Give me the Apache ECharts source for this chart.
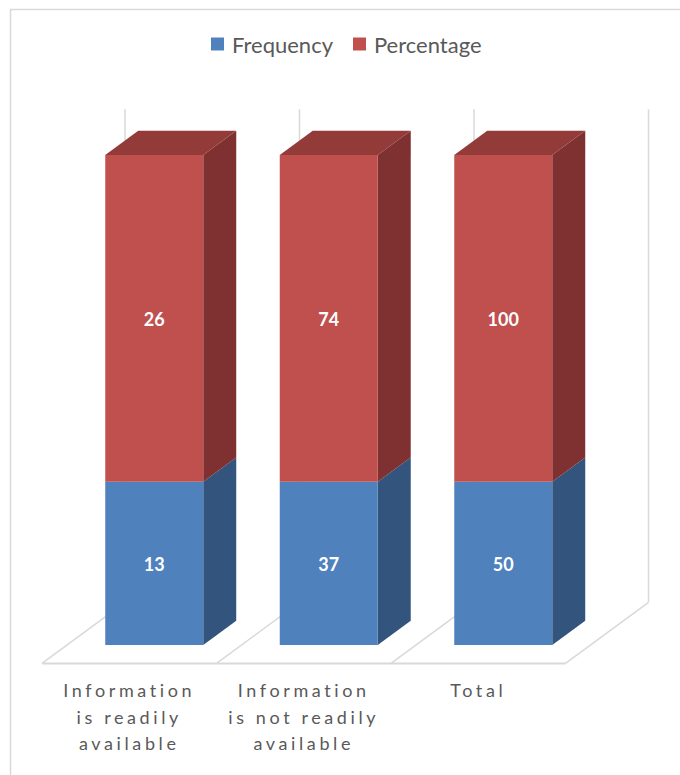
<!DOCTYPE html>
<html>
<head>
<meta charset="utf-8">
<script src="https://cdn.jsdelivr.net/npm/echarts@6/dist/echarts.min.js"></script>
<style>
  html, body { margin: 0; padding: 0; background: #ffffff; }
  #chart { width: 680px; height: 775px; }
</style>
</head>
<body>
<div id="chart"></div>
<script>
// Survey results: frequency and percentage per answer
const categories = [
  'Information\nis readily\navailable',
  'Information\nis not readily\navailable',
  'Total'
];
const frequency = [13, 37, 50];
const percentage = [26, 74, 100];

const seriesNames = ['Frequency', 'Percentage'];

// Face colours for the 3D columns
const faces = {
  Frequency: { front: '#4F81BD', side: '#33547D', top: '#3E6797' },
  Percentage: { front: '#C0504D', side: '#7E3130', top: '#933B39' }
};

// Depth geometry expressed as fractions of the category band width
const SLOPE = 0.735;         // vertical rise per horizontal depth pixel
const BAR_DEPTH = 0.189;     // depth of a column
const FLOOR_FRONT = -0.1433; // front edge of the floor relative to the column faces
const WALL_BACK = 0.3324;    // back wall relative to the column faces
const BAR_WIDTH = 0.5616;

// Each column is shown as a 100% stack: the share of each part in the column total
function segmentData(which) {
  return categories.map(function (c, i) {
    const total = frequency[i] + percentage[i];
    const fShare = frequency[i] / total * 100;
    if (which === 'Frequency') return [i, 0, fShare, frequency[i]];
    return [i, fShare, 100, percentage[i]];
  });
}

function renderSegment(name, isTop) {
  return function (params, api) {
    const x = api.value(0);
    const lo = api.value(1);
    const hi = api.value(2);
    const label = api.value(3);
    const pLo = api.coord([x, lo]);
    const pHi = api.coord([x, hi]);
    const band = api.size([1, 0])[0];
    const w = band * BAR_WIDTH;
    const dx = band * BAR_DEPTH;
    const dy = -dx * SLOPE;
    const xl = pLo[0] - w / 2, xr = pLo[0] + w / 2;
    const yb = pLo[1], yt = pHi[1];
    const c = faces[name];
    const children = [
      {
        type: 'polygon',
        shape: { points: [[xr, yb], [xr + dx, yb + dy], [xr + dx, yt + dy], [xr, yt]] },
        style: { fill: c.side }
      },
      {
        type: 'rect',
        shape: { x: xl, y: yt, width: w, height: yb - yt },
        style: { fill: c.front }
      }
    ];
    if (isTop) {
      children.push({
        type: 'polygon',
        shape: { points: [[xl, yt], [xr, yt], [xr + dx, yt + dy], [xl + dx, yt + dy]] },
        style: { fill: c.top }
      });
    }
    children.push({
      type: 'text',
      x: pLo[0],
      y: (yb + yt) / 2 + 1,
      style: {
        text: String(label),
        fill: '#ffffff',
        font: 'bold 18px Lato, "Liberation Sans", sans-serif',
        align: 'center',
        verticalAlign: 'middle'
      }
    });
    return { type: 'group', children: children };
  };
}

// Floor and back-wall outline drawn per category band
function renderFrame(params, api) {
  const i = api.value(0);
  const band = api.size([1, 0])[0];
  const p0 = api.coord([i, 0]);
  const p100 = api.coord([i, 100]);
  const start = p0[0] - band / 2;
  const end = p0[0] + band / 2;
  const fdx = band * FLOOR_FRONT, fdy = -fdx * SLOPE;
  const wdx = band * WALL_BACK, wdy = -wdx * SLOPE;
  const lineStyle = { stroke: '#d9d9d9', lineWidth: 1.5, fill: null };
  const edges = [start];
  if (i === categories.length - 1) edges.push(end);
  const children = [];
  edges.forEach(function (ex) {
    children.push({
      type: 'line',
      shape: { x1: ex + wdx, y1: p0[1] + wdy, x2: ex + wdx, y2: p100[1] + wdy - 3 },
      style: lineStyle
    });
    children.push({
      type: 'line',
      shape: { x1: ex + fdx, y1: p0[1] + fdy, x2: ex + wdx, y2: p0[1] + wdy },
      style: lineStyle
    });
  });
  children.push({
    type: 'line',
    shape: { x1: start + fdx, y1: p0[1] + fdy, x2: end + fdx, y2: p0[1] + fdy },
    style: { stroke: '#d9d9d9', lineWidth: 2, fill: null }
  });
  return { type: 'group', children: children };
}

const chart = echarts.init(document.getElementById('chart'), null, { renderer: 'svg' });

chart.setOption({
  animation: false,
  backgroundColor: '#ffffff',
  graphic: [{
    type: 'rect',
    left: 8, top: 7,
    shape: { width: 700, height: 800 },
    style: { fill: null, stroke: '#d9d9d9', lineWidth: 1.5 },
    silent: true,
    z: -10
  }],
  legend: {
    data: seriesNames,
    left: 206,
    top: 28,
    itemWidth: 13,
    itemHeight: 13,
    itemGap: 20,
    icon: 'rect',
    textStyle: {
      color: '#595959',
      fontSize: 22,
      fontFamily: 'Lato, "Liberation Sans", sans-serif',
      padding: [0, 0, 0, 3]
    }
  },
  grid: { left: 67, right: 89.5, top: 155, bottom: 130 },
  xAxis: {
    type: 'category',
    data: categories,
    axisLine: { show: false },
    axisTick: { show: false },
    splitLine: { show: false },
    axisLabel: {
      color: '#595959',
      fontSize: 18,
      lineHeight: 26.5,
      fontFamily: 'Lato, "Liberation Sans", sans-serif',
      margin: 32,
      padding: [0, 50, 0, 0],
      interval: 0
    }
  },
  yAxis: {
    type: 'value',
    min: 0,
    max: 100,
    show: false
  },
  series: [
    {
      type: 'custom',
      name: 'frame',
      silent: true,
      z: 1,
      data: categories.map(function (c, i) { return [i]; }),
      renderItem: renderFrame
    },
    {
      type: 'custom',
      name: 'Frequency',
      z: 2,
      itemStyle: { color: faces.Frequency.front },
      data: segmentData('Frequency'),
      renderItem: renderSegment('Frequency', false)
    },
    {
      type: 'custom',
      name: 'Percentage',
      z: 3,
      itemStyle: { color: faces.Percentage.front },
      data: segmentData('Percentage'),
      renderItem: renderSegment('Percentage', true)
    }
  ]
});

// Wide tracking on the category labels
const labelLines = new Set();
categories.forEach(function (c) { c.split('\n').forEach(function (l) { labelLines.add(l); }); });
document.querySelectorAll('#chart svg text').forEach(function (t) {
  if (labelLines.has(t.textContent)) t.style.letterSpacing = '3.6px';
});
</script>
</body>
</html>
